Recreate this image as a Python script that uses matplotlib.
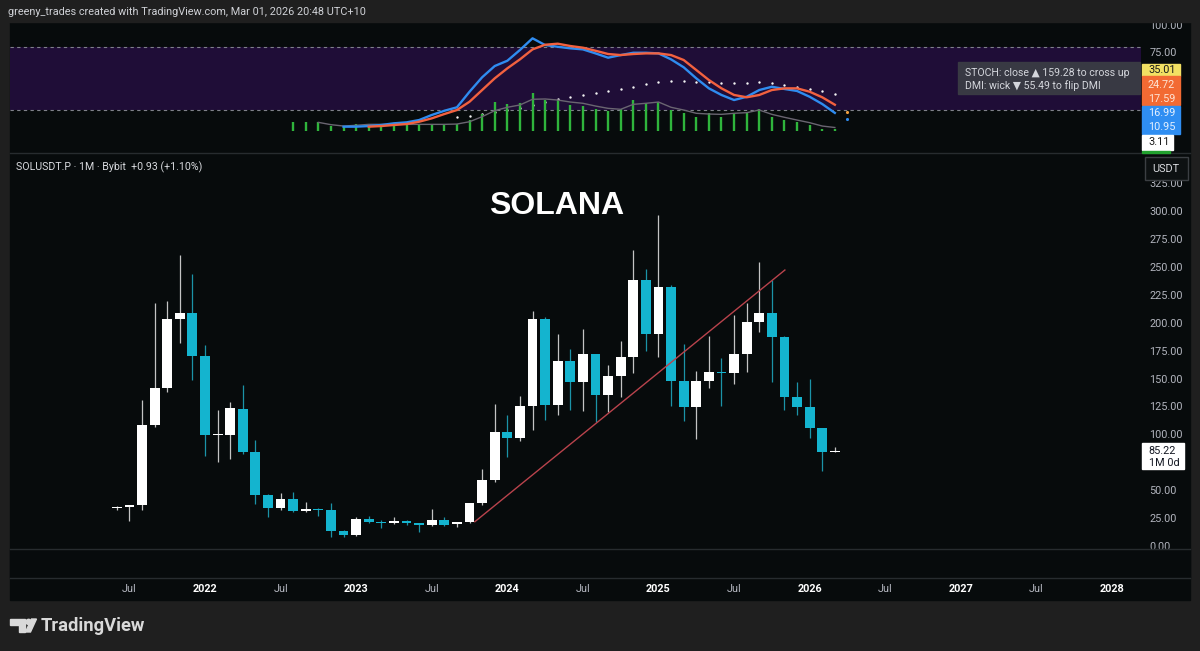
import matplotlib
matplotlib.use('Agg')
import matplotlib.pyplot as plt
import numpy as np
import pandas as pd
from matplotlib.patches import Rectangle, Polygon, Circle
from matplotlib.lines import Line2D
from matplotlib.transforms import Affine2D

plt.rcParams['font.family'] = ['Roboto', 'DejaVu Sans']

# ---------------- data ----------------
candle_months = pd.period_range('2021-06', '2026-03', freq='M')
opens = [33.8, 35.3, 36.5, 108.3, 141.3, 203.3, 209.0, 170.2, 99.5, 99.5,
         122.8, 84.6, 45.8, 33.9, 42.2, 31.5, 33.3, 32.4, 13.9, 9.9,
         24.1, 21.4, 20.8, 22.8, 20.5, 18.9, 23.7, 19.9, 21.4, 38.4,
         59.2, 101.9, 97.1, 125.7, 203.0, 126.6, 165.7, 146.6, 171.7, 135.3,
         152.6, 169.0, 238.2, 189.6, 231.6, 148.1, 124.3, 147.8, 156.0, 154.7,
         172.0, 200.9, 209.0, 187.5, 133.2, 124.8, 105.5, 84.29]
highs = [35.8, 37.2, 130.8, 217.3, 219.4, 260.5, 243.6, 180.0, 121.9, 129.3,
         144.2, 95.0, 47.0, 47.3, 48.2, 39.3, 34.5, 38.4, 14.5, 26.4,
         27.0, 23.0, 25.7, 23.5, 21.0, 33.3, 26.5, 22.0, 39.0, 68.8,
         127.0, 117.4, 134.7, 210.4, 204.8, 189.6, 176.2, 194.0, 172.0, 162.1,
         183.9, 265.0, 247.8, 296.3, 233.4, 181.0, 157.0, 188.1, 168.1, 206.9,
         217.9, 254.0, 238.2, 188.4, 147.2, 149.6, 106.0, 89.0]
lows = [32.8, 22.5, 32.4, 106.4, 138.3, 181.5, 148.7, 80.7, 75.6, 78.0,
        82.2, 37.5, 26.4, 32.4, 30.5, 30.3, 27.0, 8.0, 8.0, 9.5,
        20.4, 16.6, 20.0, 19.0, 13.0, 18.5, 18.4, 17.5, 21.0, 37.0,
        57.0, 79.5, 94.1, 104.0, 112.9, 117.4, 121.9, 121.2, 111.4, 119.8,
        133.2, 155.3, 175.0, 169.0, 125.7, 112.3, 95.6, 141.8, 125.7, 145.1,
        156.2, 191.4, 147.2, 121.9, 117.4, 96.5, 67.6, 84.0]
closes = [34.8, 36.8, 108.3, 141.3, 203.3, 209.0, 170.2, 99.5, 100.4, 123.4,
          84.0, 45.8, 33.9, 42.2, 31.5, 33.3, 32.5, 13.9, 9.9, 24.1,
          21.4, 20.8, 22.8, 20.5, 18.9, 23.7, 19.3, 21.4, 38.4, 59.2,
          101.9, 97.1, 125.7, 203.0, 126.6, 165.7, 146.6, 171.7, 135.3, 152.6,
          169.0, 238.2, 189.6, 232.2, 148.1, 124.3, 148.0, 156.2, 155.0, 172.3,
          200.9, 209.0, 187.5, 133.2, 124.8, 105.5, 84.29, 85.22]

trend_dates = ['2023-10-14', '2025-11-02']
trend_prices = [21.9, 247.1]

price_ticks = [0, 25, 50, 100, 125, 150, 175, 200, 225, 250, 275, 300, 325]

time_tick_dates = ['2021-07', '2022-01', '2022-07', '2023-01', '2023-07', '2024-01',
                   '2024-07', '2025-01', '2025-07', '2026-01', '2026-07', '2027-01',
                   '2027-07', '2028-01']
time_tick_labels = ['Jul', '2022', 'Jul', '2023', 'Jul', '2024', 'Jul', '2025',
                    'Jul', '2026', 'Jul', '2027', 'Jul', '2028']

# indicator pane
hist_months = pd.period_range('2022-08', '2026-03', freq='M')
hist_vals = [8.6, 8.6, 8.0, 4.5, 4.5, 6.1, 6.1, 6.1, 6.1, 6.1, 5.5, 6.1, 6.1, 6.4,
             10.2, 15.6, 27.6, 25.1, 26.6, 35.6, 29.2, 29.2,
             24.5, 23.5, 20.4, 19.1, 20.4, 29.2, 26.1, 27.6, 19.7, 17.2, 13.4,
             16.6, 13.4, 17.2, 17.2, 20.4, 13.4, 10.2, 8.6, 5.5, 2.0, 2.0]
avg_months = pd.period_range('2022-10', '2026-03', freq='M')
avg_vals = [8.0, 5.8, 4.5, 5.2, 6.1, 6.1, 6.1, 6.1, 6.1, 6.1, 6.1, 6.4, 8.6, 13.4,
            19.1, 22.3, 24.5, 29.9, 30.2, 29.2, 27.3, 26.1, 23.5, 21.3, 20.4, 25.1,
            26.1, 27.3, 22.3, 19.7, 16.6, 15.9, 15.6, 16.6, 17.2, 19.7, 15.6, 12.8,
            10.2, 7.7, 4.5, 3.11]
k_months = pd.period_range('2022-12', '2026-03', freq='M')
k_vals = [3.9, 3.9, 4.5, 5.5, 7.1, 8.0, 10.2, 15.0, 19.0, 22.3, 37.1, 50.8, 61.5,
          66.5, 76.7, 87.8, 81.4, 79.8, 78.3, 77.3, 73.5, 69.4, 71.9, 74.1, 74.1,
          73.5, 67.8, 60.3, 49.8, 40.3, 34.0, 29.2, 32.3, 38.7, 41.8, 39.7, 37.8,
          32.3, 25.4, 16.99]
d_months = pd.period_range('2023-02', '2026-03', freq='M')
d_vals = [3.9, 4.5, 5.5, 6.4, 8.6, 11.8, 15.9, 19.7, 27.6, 38.7, 49.8, 59.3, 67.8,
          77.3, 81.7, 82.7, 80.5, 78.9, 76.0, 72.9, 71.9, 72.9, 73.5, 73.5, 71.9,
          67.2, 57.7, 48.2, 40.3, 34.0, 31.8, 34.0, 38.7, 40.3, 40.3, 37.1, 31.8,
          24.72]
dot_months = pd.period_range('2023-09', '2026-03', freq='M')
dot_vals = [13.4, 14.0, 15.5, 17.5, 19.5, 21.3, 24.5, 27.6, 29.9, 31.8, 34.2, 36.1,
            37.8, 39.4, 41.8, 44.1, 46.6, 47.0, 47.0, 46.6, 46.0, 45.6, 45.6, 45.6,
            46.3, 45.6, 43.4, 41.8, 39.9, 37.5, 35.01]
proj_month = '2026-04'
proj_d = 17.59
proj_k = 10.95

label_values = ['35.01', '24.72', '17.59', '16.99', '10.95', '3.11']

# ---------------- helpers ----------------
W, H = 1200, 651
OUTER = '#1f1f1f'
BG = '#070b0c'
UP = '#ffffff'
DOWN = '#14b4cf'
UP_WICK = '#c4c4c4'
DOWN_WICK = '#1b93a8'
SEP = '#272c2f'
AXTXT = '#b2b5be'


def midx(p):
    p = pd.Period(p, freq='M') if not isinstance(p, pd.Period) else p
    return (p.year - 2022) * 12 + p.month - 1


def mfrac(datestr):
    t = pd.Timestamp(datestr)
    return (t.year - 2022) * 12 + t.month - 1 + (t.day - 1) / t.days_in_month


def rect(x0, y0, x1, y1):
    return [x0 / W, 1 - y1 / H, (x1 - x0) / W, (y1 - y0) / H]


XL = ((10 - 205) / 12.597, (1141 - 205) / 12.597)

fig = plt.figure(figsize=(12, 6.51), dpi=100)
fig.patch.set_facecolor(OUTER)
tp = Affine2D().scale(1 / W, -1 / H).translate(0, 1) + fig.transFigure

fig.add_artist(Rectangle((10, 22), 1180, 578, transform=tp, color=BG, zorder=-10))

# ---------------- indicator ----------------
ax_ind = fig.add_axes(rect(10, 22, 1141, 153))
ax_ind.set_facecolor('none')
ax_ind.set_xlim(XL)
ax_ind.set_ylim(-21.1, 103.3)
ax_ind.axhspan(20, 80, color='#1f0d37', lw=0, zorder=0)
for lvl in (20, 80):
    ax_ind.axhline(lvl, color='#80828b', lw=0.8, dashes=(3, 3), zorder=1)
hx = np.array([midx(p) for p in hist_months])
ax_ind.vlines(hx, 0, hist_vals, color='#2fb53c', lw=1.7, zorder=3)
ax_ind.scatter([midx(p) for p in dot_months], dot_vals, s=3, color='#f4f4f4',
               lw=0, zorder=2)
ax_ind.plot([midx(p) for p in avg_months], avg_vals, color='#6a6571', lw=1.0, zorder=4)
ax_ind.plot([midx(p) for p in k_months], k_vals, color='#2f8cf0', lw=1.7, zorder=5)
ax_ind.plot([midx(p) for p in d_months], d_vals, color='#f2613f', lw=1.7, zorder=6)
ax_ind.scatter([midx(proj_month)], [proj_d], s=5, color='#f2a03f', lw=0, zorder=6)
ax_ind.scatter([midx(proj_month)], [proj_k], s=5, color='#2f8cf0', lw=0, zorder=6)
ax_ind.yaxis.tick_right()
ax_ind.set_yticks([75, 100])
ax_ind.set_yticklabels(['75.00', '100.00'])
ax_ind.set_xticks([])
ax_ind.tick_params(axis='y', length=0, pad=6, labelsize=7.8, labelcolor=AXTXT)
for s in ax_ind.spines.values():
    s.set_visible(False)

# ---------------- main price pane ----------------
ax = fig.add_axes(rect(10, 153, 1141, 549))
ax.set_facecolor('none')
ax.set_xlim(XL)
ax.set_ylim(-2.5, 351.8)
cx = np.array([midx(p) for p in candle_months])
o = np.array(opens); c = np.array(closes); hi = np.array(highs); lo = np.array(lows)
up = c >= o
body_lo = np.minimum(o, c)
body_h = np.maximum(np.abs(c - o), 1.2)
ax.vlines(cx[up], lo[up], hi[up], color=UP_WICK, lw=0.9, zorder=2)
ax.vlines(cx[~up], lo[~up], hi[~up], color=DOWN_WICK, lw=0.9, zorder=2)
ax.bar(cx[up], body_h[up], bottom=body_lo[up], width=0.78, color=UP, lw=0, zorder=3)
ax.bar(cx[~up], body_h[~up], bottom=body_lo[~up], width=0.78, color=DOWN, lw=0, zorder=3)
ax.plot([mfrac(d) for d in trend_dates], trend_prices, color='#b9434c', lw=1.0, zorder=4)
ax.yaxis.tick_right()
ax.set_yticks(price_ticks)
ax.set_yticklabels([f'{v:.2f}' for v in price_ticks])
ax.set_xticks([])
ax.tick_params(axis='y', length=0, pad=6, labelsize=7.8, labelcolor=AXTXT)
for s in ax.spines.values():
    s.set_visible(False)
ax.text(0.483, 0.866, 'SOLANA', transform=ax.transAxes, ha='center', va='center',
        fontsize=23, fontweight='bold', color='white', family='Liberation Sans')

# ---------------- time axis ----------------
ax_t = fig.add_axes(rect(10, 578, 1141, 600))
ax_t.set_xlim(XL)
ax_t.set_ylim(0, 1)
ax_t.axis('off')
for d, lab in zip(time_tick_dates, time_tick_labels):
    bold = lab != 'Jul'
    ax_t.text(midx(d), 0.5, lab, ha='center', va='center', fontsize=7.8,
              color='#ffffff' if bold else AXTXT, fontweight='bold' if bold else 'normal')

# ---------------- masks and separators ----------------
fig.add_artist(Rectangle((0, 0), W, 22, transform=tp, color=OUTER, zorder=5))
fig.add_artist(Rectangle((10, 549), 1180, 29, transform=tp, color=BG, zorder=5))
for yy in (153, 549, 578):
    fig.add_artist(Line2D([10, 1190], [yy, yy], transform=tp, color=SEP, lw=1, zorder=6))

# indicator value labels
lab_boxes = [
    (64, 76, '#f2e063', [(label_values[0], 70.0)], '#1a1a1a', 1180),
    (76, 104.5, '#f26a33', [(label_values[1], 84.5), (label_values[2], 99.0)], '#fde3d4', 1180),
    (106, 133.5, '#2f8ef2', [(label_values[3], 113.0), (label_values[4], 127.0)], '#e4f0ff', 1180),
    (134.5, 149.5, '#ffffff', [(label_values[5], 142.0)], '#1a1a1a', 1173),
    (151, 153, '#22a22f', [], '#ffffff', 1170),
]
for y0, y1, col, texts, tcol, x1 in lab_boxes:
    fig.add_artist(Rectangle((1142, y0), x1 - 1142, y1 - y0, transform=tp, color=col, zorder=7))
    for t, yy in texts:
        fig.text(1148, yy, t, transform=tp, ha='left', va='center', fontsize=7.8,
                 color=tcol, zorder=8)

# tooltip
fig.add_artist(Rectangle((958, 62), 182, 32, transform=tp, color='#3a3c44', alpha=0.95, zorder=7))
fig.text(965, 73.5, 'STOCH: close \u25B2 159.28 to cross up', transform=tp, ha='left',
         va='center', fontsize=7.6, color='#d4d6dc', zorder=8,
         family=['Roboto', 'DejaVu Sans'])
fig.text(965, 85.5, 'DMI: wick \u25BC 55.49 to flip DMI', transform=tp, ha='left',
         va='center', fontsize=7.6, color='#d4d6dc', zorder=8,
         family=['Roboto', 'DejaVu Sans'])

# USDT box
fig.add_artist(Rectangle((1144.5, 157), 43.5, 22.5, transform=tp, facecolor='#0d1112',
                         edgecolor='#3b3f43', lw=1, zorder=7))
fig.text(1166.2, 168.5, 'USDT', transform=tp, ha='center', va='center', fontsize=7.8,
         color='#d8dade', zorder=8)

# last price label
py_last = ax.transData.transform((0, closes[-1]))[1]
y_last = H - py_last
fig.add_artist(Rectangle((1142, y_last - 7.5), 42, 26, transform=tp, color='#ffffff', zorder=7))
fig.text(1148, y_last, f'{closes[-1]:.2f}', transform=tp, ha='left', va='center',
         fontsize=7.8, color='#131722', zorder=8)
fig.text(1149, y_last + 12.5, '1M 0d', transform=tp, ha='left', va='center',
         fontsize=7.8, color='#131722', zorder=8)

# header texts
fig.text(8, 12, 'greeny_trades created with TradingView.com, Mar 01, 2026 20:48 UTC+10',
         transform=tp, ha='left', va='center', fontsize=7.8, color='#cfd1d6', zorder=8)
fig.text(16, 167, 'SOLUSDT.P \u00b7 1M \u00b7 Bybit  +0.93 (+1.10%)', transform=tp,
         ha='left', va='center', fontsize=7.7, color='#d8dade', zorder=8)

# TradingView footer logo
LOGO = '#d9d9d9'
fig.add_artist(Polygon([(10, 619), (25, 619), (25, 632), (18.5, 632), (18.5, 624.5), (10, 624.5)],
                       closed=True, transform=tp, color=LOGO, zorder=8))
fig.add_artist(Circle((28.6, 621.9), 2.6, transform=tp, color=LOGO, zorder=8))
fig.add_artist(Polygon([(31.5, 619), (36.5, 619), (30.5, 632), (25.5, 632)],
                       closed=True, transform=tp, color=LOGO, zorder=8))
fig.text(41, 626, 'TradingView', transform=tp, ha='left', va='center', fontsize=13.2,
         fontweight='semibold', color=LOGO, zorder=8)

fig.savefig('out.png', dpi=100, facecolor=OUTER)
